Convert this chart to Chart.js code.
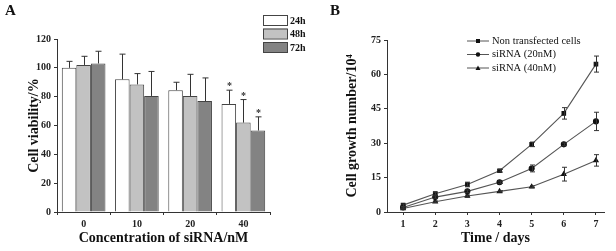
<!DOCTYPE html>
<html>
<head>
<meta charset="utf-8">
<script src="https://cdn.jsdelivr.net/npm/chart.js@4/dist/chart.umd.min.js"></script>
<style>
  body { margin: 0; background: #fff; }
  #wrap { position: relative; width: 616px; height: 251px; }
  #chartA { position: absolute; left: 0; top: 0; }
  #chartB { position: absolute; left: 300px; top: 0; }
</style>
</head>
<body>
<div id="wrap">
  <canvas id="chartA" width="320" height="251"></canvas>
  <canvas id="chartB" width="316" height="251"></canvas>
</div>
<script>
// panel A - cell viability
var concLabels = ['0', '10', '20', '40'];
var via24 = [100, 92, 84.5, 75];
var via48 = [102, 88.5, 80.5, 62];
var via72 = [103, 80.5, 77, 56.5];
var err24 = [4.5, 17.5, 5.5, 9.5];
var err48 = [6, 7.5, 15, 16];
var err72 = [8.5, 17, 16, 9.5];
var starred = [false, false, false, true];

// panel B - growth curve
var days = [1, 2, 3, 4, 5, 6, 7];
var growthNon = [3, 8, 12, 18, 29.5, 43, 64.5];
var growth20 = [2, 6.5, 9, 13, 19, 29.5, 39.5];
var growth40 = [1.5, 4.5, 7, 9, 11, 16.5, 22.5];
var errNon = [0.5, 0.6, 1, 0.6, 1, 2.5, 3.5];
var err20 = [0.4, 0.5, 0.6, 0.5, 1.5, 0.6, 4];
var err40 = [0.3, 0.3, 0.4, 0.3, 0.4, 3, 2.5];

var serif = "'Liberation Serif', 'Times New Roman', serif";
Chart.defaults.font.family = serif;
Chart.defaults.color = '#222';

// draws upward error bars (A) or two-sided ones (B) from dataset.errors
var errorBarPlugin = {
    id: 'errorBars',
    afterDatasetsDraw: function(chart, args, opts) {
        var ctx = chart.ctx;
        var yScale = chart.scales.y;
        ctx.save();
        ctx.strokeStyle = '#333';
        ctx.lineWidth = 1;
        chart.data.datasets.forEach(function(ds, di) {
            var meta = chart.getDatasetMeta(di);
            meta.data.forEach(function(el, i) {
                var v = ds.data[i];
                if (typeof v === 'object') v = v.y;
                var e = ds.errors[i];
                var x = Math.round(el.x) + 0.5;
                var yTop = yScale.getPixelForValue(v + e);
                var yBot = opts.twoSided ? yScale.getPixelForValue(v - e) : yScale.getPixelForValue(v);
                ctx.beginPath();
                ctx.moveTo(x, yTop);
                ctx.lineTo(x, yBot);
                ctx.moveTo(x - opts.cap, yTop);
                ctx.lineTo(x + opts.cap, yTop);
                if (opts.twoSided) {
                    ctx.moveTo(x - opts.cap, yBot);
                    ctx.lineTo(x + opts.cap, yBot);
                }
                ctx.stroke();
                if (opts.stars && opts.stars[i]) {
                    ctx.fillStyle = '#333';
                    ctx.font = 'bold 10px ' + serif;
                    ctx.textAlign = 'center';
                    ctx.fillText('*', x, yTop - 1);
                }
            });
        });
        ctx.restore();
    }
};

// panel letter and custom legend
var decoPlugin = {
    id: 'deco',
    afterDraw: function(chart, args, opts) {
        var ctx = chart.ctx;
        ctx.save();
        ctx.fillStyle = '#111';
        ctx.font = 'bold 15px ' + serif;
        ctx.textBaseline = 'top';
        ctx.textAlign = 'left';
        ctx.fillText(opts.letter, opts.letterX, 4);
        ctx.textBaseline = 'middle';
        if (opts.kind === 'box') {
            chart.data.datasets.forEach(function(ds, i) {
                var y = opts.y + i * 13.5;
                ctx.fillStyle = ds.backgroundColor;
                ctx.fillRect(opts.x, y, 24, 10);
                ctx.strokeStyle = '#444';
                ctx.strokeRect(opts.x + 0.5, y + 0.5, 24, 10);
                ctx.fillStyle = '#111';
                ctx.font = 'bold 10px ' + serif;
                ctx.fillText(ds.label, opts.x + 27, y + 6);
            });
        } else {
            chart.data.datasets.forEach(function(ds, i) {
                var y = opts.y + i * 13.5;
                ctx.strokeStyle = '#555';
                ctx.lineWidth = 1;
                ctx.beginPath();
                ctx.moveTo(opts.x, y);
                ctx.lineTo(opts.x + 22, y);
                ctx.stroke();
                ctx.fillStyle = '#111';
                var cx = opts.x + 11;
                if (ds.pointStyle === 'rect') ctx.fillRect(cx - 2, y - 2, 4, 4);
                else if (ds.pointStyle === 'circle') { ctx.beginPath(); ctx.arc(cx, y, 2.2, 0, Math.PI * 2); ctx.fill(); }
                else { ctx.beginPath(); ctx.moveTo(cx, y - 2.5); ctx.lineTo(cx + 2.5, y + 2); ctx.lineTo(cx - 2.5, y + 2); ctx.closePath(); ctx.fill(); }
                ctx.font = '10.5px ' + serif;
                ctx.fillText(ds.label, opts.x + 25, y);
            });
        }
        ctx.restore();
    }
};

function axisStyle(extra) {
    var base = {
        border: { display: true, color: '#333', width: 1 },
        grid: { display: true, drawOnChartArea: false, drawTicks: true, tickLength: 3, color: '#333' },
        ticks: { color: '#222', font: { size: 10, weight: 'bold' }, padding: 3 }
    };
    return Object.assign(base, extra);
}

new Chart(document.getElementById('chartA'), {
    type: 'bar',
    data: {
        labels: concLabels,
        datasets: [
            { label: '24h', data: via24, errors: err24, backgroundColor: '#ffffff', borderColor: '#444', borderWidth: 1 },
            { label: '48h', data: via48, errors: err48, backgroundColor: '#c2c2c2', borderColor: '#444', borderWidth: 1 },
            { label: '72h', data: via72, errors: err72, backgroundColor: '#838383', borderColor: '#444', borderWidth: 1 }
        ]
    },
    options: {
        responsive: false,
        animation: false,
        layout: { padding: { top: 39, right: 50, left: 22, bottom: 0 } },
        datasets: { bar: { categoryPercentage: 0.82, barPercentage: 1.0 } },
        plugins: {
            legend: { display: false },
            tooltip: { enabled: false },
            errorBars: { cap: 3, twoSided: false, stars: starred },
            deco: { letter: 'A', letterX: 5, kind: 'box', x: 263, y: 15 }
        },
        scales: {
            x: axisStyle({
                title: { display: true, text: 'Concentration of siRNA/nM', color: '#111', font: { size: 14, weight: 'bold' }, padding: { top: 2 } },
                afterFit: function(s) { s.height = 39; }
            }),
            y: axisStyle({
                min: 0, max: 120,
                ticks: { stepSize: 20, color: '#222', font: { size: 10, weight: 'bold' }, padding: 3 },
                title: { display: true, text: 'Cell viability/%', color: '#111', font: { size: 14, weight: 'bold' }, padding: { bottom: 2 } },
                afterFit: function(s) { s.width = 35; }
            })
        }
    },
    plugins: [errorBarPlugin, decoPlugin]
});

function pts(vals) {
    return vals.map(function(v, i) { return { x: days[i], y: v }; });
}

var lineDefaults = { borderColor: '#555', borderWidth: 1.1, pointBackgroundColor: '#111', pointBorderColor: '#111', pointRadius: 2.5, tension: 0 };

new Chart(document.getElementById('chartB'), {
    type: 'line',
    data: {
        datasets: [
            Object.assign({ label: 'Non transfected cells', data: pts(growthNon), errors: errNon, pointStyle: 'rect' }, lineDefaults),
            Object.assign({ label: 'siRNA (20nM)', data: pts(growth20), errors: err20, pointStyle: 'circle' }, lineDefaults),
            Object.assign({ label: 'siRNA (40nM)', data: pts(growth40), errors: err40, pointStyle: 'triangle' }, lineDefaults)
        ]
    },
    options: {
        responsive: false,
        animation: false,
        layout: { padding: { top: 40, right: 12, left: 40, bottom: 0 } },
        plugins: {
            legend: { display: false },
            tooltip: { enabled: false },
            errorBars: { cap: 2.5, twoSided: true },
            deco: { letter: 'B', letterX: 30, kind: 'line', x: 167, y: 41 }
        },
        scales: {
            x: axisStyle({
                type: 'linear',
                min: 0.5, max: 7.25,
                ticks: { stepSize: 1, includeBounds: false, color: '#222', font: { size: 10, weight: 'bold' }, padding: 3 },
                title: { display: true, text: 'Time / days', color: '#111', font: { size: 14, weight: 'bold' }, padding: { top: 2 } },
                afterFit: function(s) { s.height = 39; }
            }),
            y: axisStyle({
                min: 0, max: 75,
                ticks: { stepSize: 15, color: '#222', font: { size: 10, weight: 'bold' }, padding: 3 },
                title: { display: true, text: 'Cell growth number/10\u2074', color: '#111', font: { size: 14, weight: 'bold' }, padding: { bottom: 2 } },
                afterFit: function(s) { s.width = 47; }
            })
        }
    },
    plugins: [errorBarPlugin, decoPlugin]
});
</script>
</body>
</html>
